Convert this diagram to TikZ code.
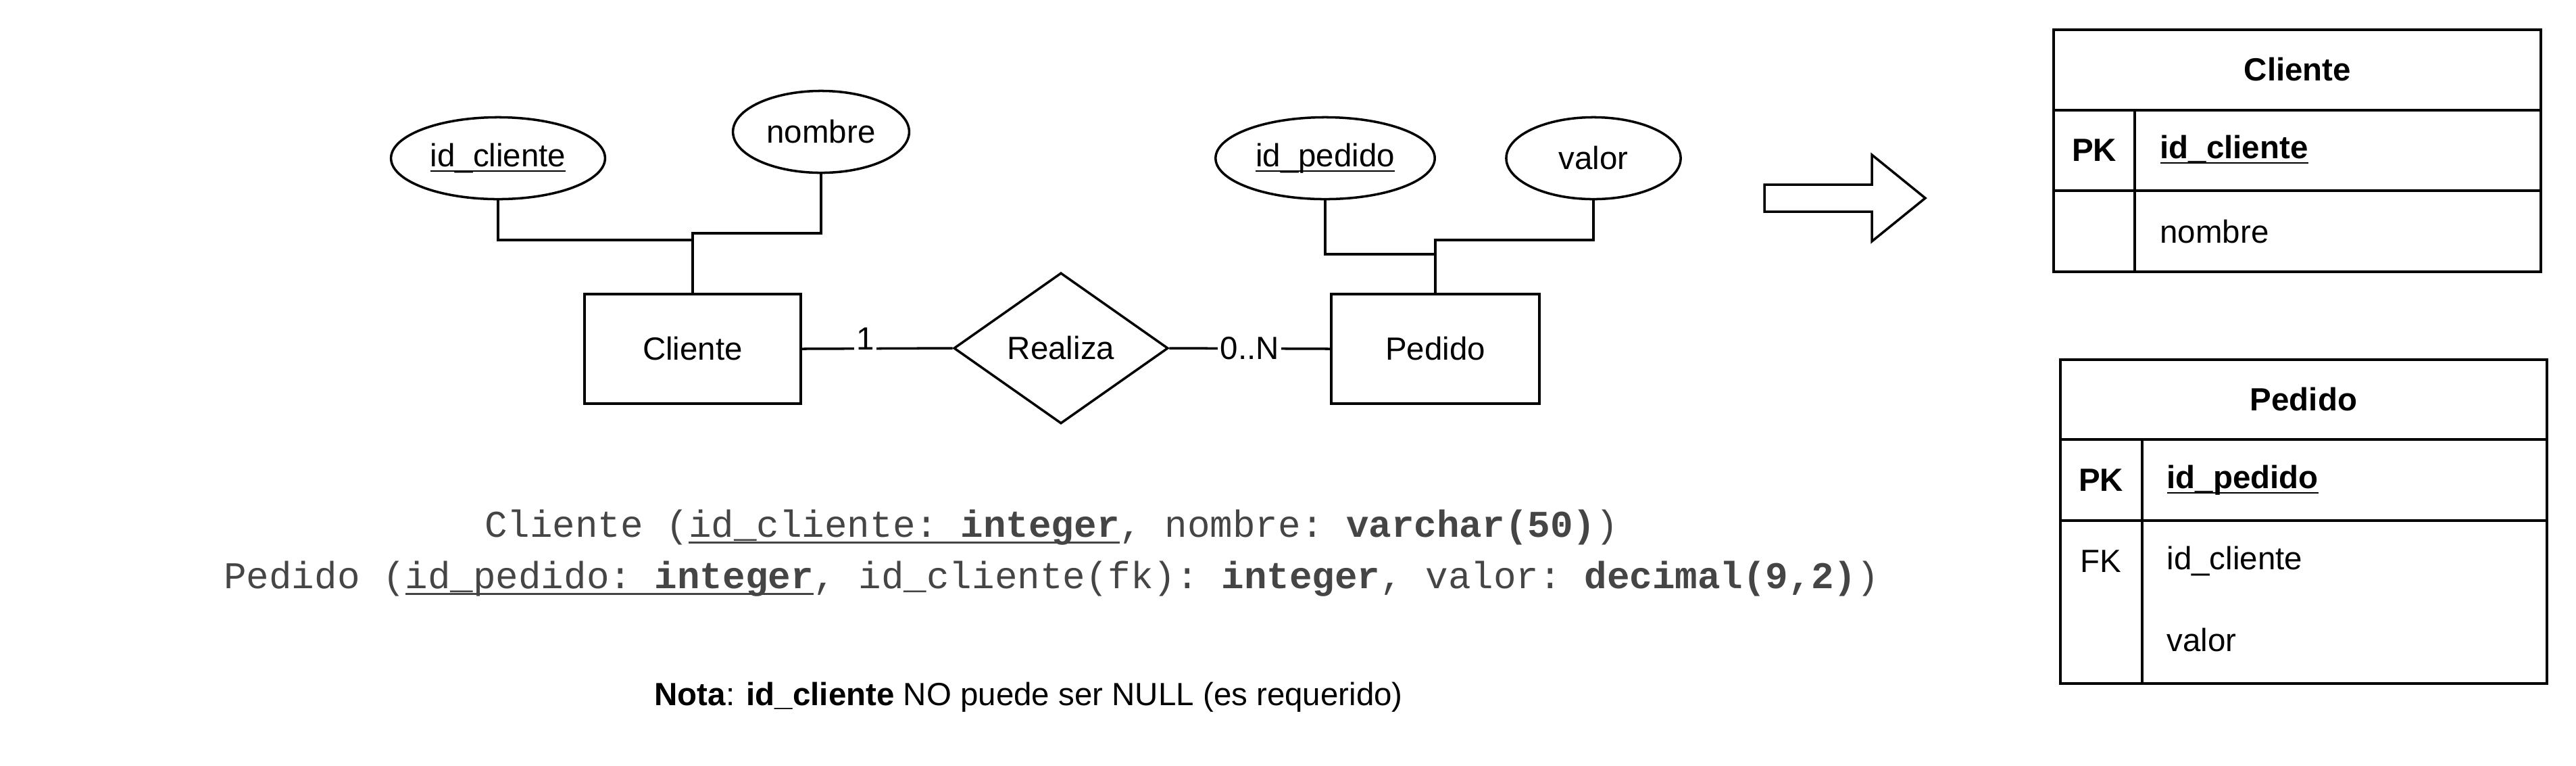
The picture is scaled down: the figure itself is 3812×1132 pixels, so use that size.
\documentclass[tikz,border=0pt]{standalone}
\usepackage{amsmath}
\usepackage{fontspec}
\setmainfont{Liberation Sans}
\setmonofont{Liberation Mono}
\usetikzlibrary{shapes.geometric}
\definecolor{codegray}{HTML}{454545}
\newcommand{\keyname}[1]{\mbox{\underline{\smash[b]{#1}}}\vphantom{#1}}

\begin{document}
\begin{tikzpicture}
  [x=0.01cm, y=-0.01cm, line width=1pt,
    font=\fontsize{13.5}{16}\selectfont,
    entity/.style={
      draw, rectangle,
      minimum height=1.62cm
    },
    attrib/.style={
      draw, ellipse,
      minimum height=1.21cm
    },
    relship/.style={
      draw, diamond, inner sep=0pt,
      minimum width=3.17cm, minimum height=2.23cm
    },
    card/.style={fill=white, inner sep=1pt},
    code/.style={
      text=codegray,
      font=\fontsize{15.9}{19}\selectfont\ttfamily
    },
    cell/.style={anchor=west}
  ]
  \useasboundingbox (0,0) rectangle (3812,1132);

  % entidades y atributos
  \node[attrib, minimum width=3.05cm] (idc) at (737,234) {\keyname{id\_cliente}};
  \node[attrib, minimum width=2.59cm] (nom) at (1215,195) {nombre};
  \node[entity, minimum width=3.2cm] (cli) at (1025,516) {Cliente};
  \node[relship] (rea) at (1570,515) {Realiza};
  \node[entity, minimum width=3.08cm] (ped) at (2124,516) {Pedido};
  \node[attrib, minimum width=3.04cm] (idp) at (1961,234) {\keyname{id\_pedido}};
  \node[attrib, minimum width=2.58cm] (val) at (2358,234) {valor};

  \draw (idc.south) |- (1025,355);
  \draw (nom.south) |- (1025,345) -- (cli.north);
  \draw (idp.south) |- (2124,376);
  \draw (val.south) |- (2124,355) -- (ped.north);
  \draw (cli.east) -- node[card, pos=0.42, yshift=0.14cm] {1} (rea.west);
  \draw (rea.east) -- node[card, pos=0.5] {0..N} (ped.west);

  % esquema relacional
  \node[code] (relcli) at (1556,780)
    {Cliente (\keyname{id\_cliente: \textbf{integer}}, nombre: \textbf{varchar(50)})};
  \node[code] (relped) at (1556,856)
    {Pedido (\keyname{id\_pedido: \textbf{integer}}, id\_cliente(fk): \textbf{integer}, valor: \textbf{decimal(9,2)})};
  \node (nota) at (1522,1031)
    {\textbf{Nota}: \textbf{id\_cliente} NO puede ser NULL (es requerido)};

  % flecha
  \draw (2611,273) -- (2770,273) -- (2770,229) -- (2849,293)
    -- (2770,357) -- (2770,313) -- (2611,313) -- cycle;

  % tabla Cliente
  \draw (3039,44) rectangle (3760,402);
  \draw (3039,163) -- (3760,163);
  \draw (3039,282) -- (3760,282);
  \draw (3159,163) -- (3159,402);
  \node (tcli) at (3400,103) {\textbf{Cliente}};
  \node (tclipk) at (3099,222) {\textbf{PK}};
  \node[cell] (tcliid) at (3183,222) {\textbf{\keyname{id\_cliente}}};
  \node[cell] (tclinom) at (3183,343) {nombre};

  % tabla Pedido
  \draw (3049,532) rectangle (3769,1011);
  \draw (3049,650) -- (3769,650);
  \draw (3049,770) -- (3769,770);
  \draw (3170,650) -- (3170,1011);
  \node (tped) at (3409,591) {\textbf{Pedido}};
  \node (tpedpk) at (3109,710) {\textbf{PK}};
  \node[cell] (tpedid) at (3193,710) {\textbf{\keyname{id\_pedido}}};
  \node (tpedfk) at (3109,830) {FK};
  \node[cell] (tpedcli) at (3193,830) {id\_cliente};
  \node[cell] (tpedval) at (3193,947) {valor};
\end{tikzpicture}
\end{document}
